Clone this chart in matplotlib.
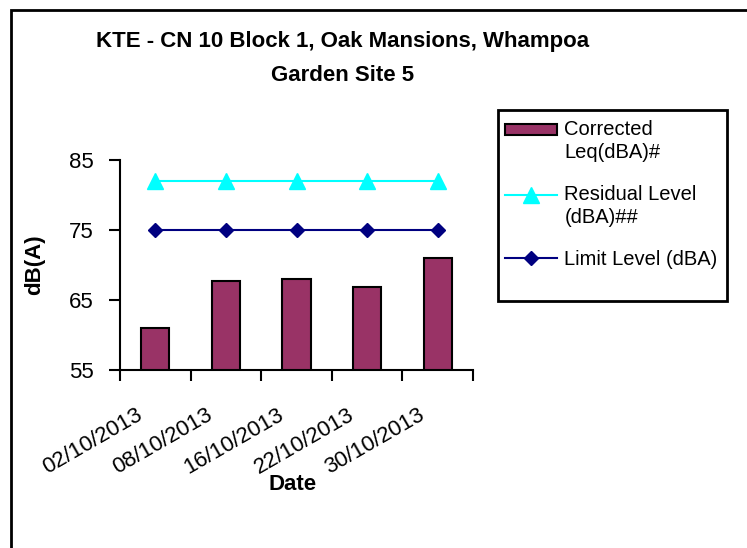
import numpy as np
import matplotlib
matplotlib.use('Agg')
import matplotlib.pyplot as plt
from matplotlib.patches import Rectangle
from matplotlib.transforms import ScaledTranslation
from matplotlib.legend_handler import HandlerLine2D, HandlerPatch

plt.rcParams['font.family'] = ['Liberation Sans', 'DejaVu Sans']

# data
dates = ['02/10/2013', '08/10/2013', '16/10/2013', '22/10/2013', '30/10/2013']
corrected_leq = [61.0, 67.7, 68.0, 66.9, 71.0]
residual_level = [82, 82, 82, 82, 82]
limit_level = [75, 75, 75, 75, 75]


# legend handles sit on the first line of a two-line label, as in Excel
class FirstLineLine2D(HandlerLine2D):
    def __init__(self, dy, **kw):
        super().__init__(**kw)
        self.dy = dy

    def create_artists(self, legend, orig_handle, xdescent, ydescent,
                       width, height, fontsize, trans):
        arts = super().create_artists(legend, orig_handle, xdescent, ydescent,
                                      width, height, fontsize, trans)
        for a in arts:
            a.set_ydata(np.asarray(a.get_ydata()) + self.dy)
        return arts


def bar_handle(legend, orig_handle, xdescent, ydescent, width, height, fontsize):
    h = 8.0
    return Rectangle((-xdescent, -ydescent + (height - h) / 2 + 8.3), width, h)


W, H = 747, 548
fig = plt.figure(figsize=(W / 100, H / 100), dpi=100)

# outer chart border (right and bottom run off the picture)
fig.patches.append(Rectangle((11 / W, -0.1), 1.2, 1 - 10 / H + 0.1,
                             transform=fig.transFigure, fill=False,
                             edgecolor='black', linewidth=2))

ax = fig.add_axes([120 / W, 1 - 370 / H, 353 / W, 210 / H])
x = np.arange(len(dates))

bars = ax.bar(x, corrected_leq, width=0.4, color='#993366', edgecolor='black',
              linewidth=1.5, zorder=2)
res_line, = ax.plot(x, residual_level, color='#00FFFF', marker='^',
                    markersize=11, linewidth=1.5, zorder=3)
lim_line, = ax.plot(x, limit_level, color='#000080', marker='D',
                    markersize=7.5, linewidth=1.5, zorder=3)

ax.set_xlim(-0.5, len(dates) - 0.5)
ax.set_ylim(55, 85)
ax.set_yticks([55, 65, 75, 85])
ax.set_xticks(np.arange(len(dates) + 1) - 0.5)
ax.set_xticklabels([])
ax.set_xticks(x, minor=True)
ax.set_xticklabels(dates, minor=True, rotation=30, ha='right',
                   rotation_mode='anchor', fontsize=16)
ax.tick_params(axis='x', which='minor', length=0, pad=14)
ax.tick_params(axis='x', which='major', length=8, width=1.5, direction='out')
ax.tick_params(axis='y', length=8, width=1.5, direction='out', labelsize=16, pad=11)

shift = ScaledTranslation(-20 / 100, -15 / 100, fig.dpi_scale_trans)
for lab in ax.get_xticklabels(minor=True):
    lab.set_transform(lab.get_transform() + shift)

for side in ['top', 'right']:
    ax.spines[side].set_visible(False)
for side in ['left', 'bottom']:
    ax.spines[side].set_linewidth(1.5)

ax.set_xlabel('Date', fontsize=16, fontweight='bold', va='center')
ax.xaxis.set_label_coords(0.5 - 4 / 353, -115 / 210)
ax.set_ylabel('dB(A)', fontsize=16, fontweight='bold', va='center')
ax.yaxis.set_label_coords(-85 / 353, 0.5)

fig.text(343 / W, 1 - 42 / H, 'KTE - CN 10 Block 1, Oak Mansions, Whampoa',
         ha='center', va='center', fontsize=16, fontweight='bold')
fig.text(343 / W, 1 - 76 / H, 'Garden Site 5',
         ha='center', va='center', fontsize=16, fontweight='bold')

# legend frame drawn like the spreadsheet box
fig.patches.append(Rectangle((498 / W, 1 - 301 / H), 229 / W, 191 / H,
                             transform=fig.transFigure, fill=False,
                             edgecolor='black', linewidth=2))
bar_patch = bars.patches[0]
leg = fig.legend([bar_patch, res_line, lim_line],
                 ['Corrected\nLeq(dBA)#', 'Residual Level\n(dBA)##', 'Limit Level (dBA)'],
                 loc='upper left', bbox_to_anchor=(505 / W, 1 - 120 / H),
                 frameon=False, fontsize=14.5, handlelength=2.6, handletextpad=0.35,
                 labelspacing=1.15, borderaxespad=0, borderpad=0,
                 handler_map={bar_patch: HandlerPatch(patch_func=bar_handle),
                              res_line: FirstLineLine2D(8.3),
                              lim_line: FirstLineLine2D(0)})
for t in leg.get_texts():
    t.set_linespacing(1.25)

fig.savefig('out.png', dpi=100)
